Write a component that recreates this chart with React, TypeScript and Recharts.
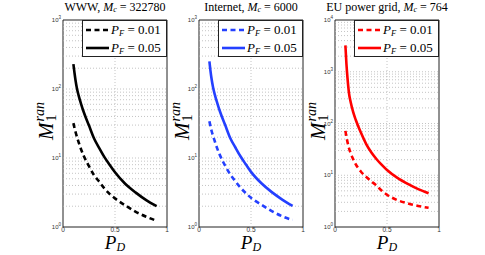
import React from 'react';
import { LineChart, Line, XAxis, YAxis, ReferenceLine, ReferenceArea } from 'recharts';

// detection probability P_D (x axis)
const pd = [0.1, 0.11, 0.12, 0.135, 0.15, 0.175, 0.2, 0.25, 0.3, 0.35, 0.4, 0.45, 0.5, 0.6, 0.7, 0.8, 0.9];

// WWW, M_c = 322780
const wwwLow = [32, 27.5, 24, 20, 17, 13.2, 10.7, 7.6, 5.6, 4.5, 3.6, 3.0, 2.6, 2.05, 1.66, 1.41, 1.23];
const wwwHigh = [229, 174, 135, 100, 81, 60, 46, 29.5, 19, 13.8, 10.2, 7.9, 6.2, 4.2, 3.15, 2.45, 2.0];

// Internet, M_c = 6000
const netLow = [34, 29, 25, 21, 17.8, 13.8, 11.1, 7.8, 5.8, 4.6, 3.7, 3.1, 2.65, 2.1, 1.7, 1.43, 1.26];
const netHigh = [251, 185, 143, 106, 85, 63, 48, 30.5, 19.5, 14.2, 10.5, 8.1, 6.3, 4.3, 3.2, 2.5, 2.02];

// EU power grid, M_c = 764
const euLow = [72, 55, 44, 33, 27, 20.4, 16.2, 11.7, 9.3, 7.6, 6.3, 5.0, 4.2, 3.3, 2.85, 2.55, 2.35];
const euHigh = [3240, 1410, 760, 380, 263, 166, 117, 66, 40, 27.5, 20.4, 15.8, 12.6, 8.9, 6.8, 5.4, 4.5];

const xTicks = [0, 0.5, 1];
const ticks3 = [1, 10, 100, 1000];
const ticks4 = [1, 10, 100, 1000, 10000];

const panels = [
  { name: 'WWW', mc: '322780', color: '#000000', low: wwwLow, high: wwwHigh, yTicks: ticks3 },
  { name: 'Internet', mc: '6000', color: '#2440ff', low: netLow, high: netHigh, yTicks: ticks3 },
  { name: 'EU power grid', mc: '764', color: '#ff0000', low: euLow, high: euHigh, yTicks: ticks4 },
];

const serif = '"Liberation Serif", "DejaVu Serif", serif';
const sans = '"Liberation Sans", Arial, sans-serif';

const YTick = (props: any) => {
  const { x, y, payload } = props;
  const exp = Math.round(Math.log10(payload.value));
  return (
    <text x={x} y={y + 2} textAnchor="end" fontSize={6} fill="#333" fontFamily={sans}>
      <tspan>10</tspan>
      <tspan dy={-3} fontSize={4.5}>{exp}</tspan>
    </text>
  );
};

const XTick = (props: any) => {
  const { x, y, payload } = props;
  return (
    <text x={x} y={y + 5} textAnchor="middle" fontSize={6.5} fill="#333" fontFamily={sans}>
      {payload.value}
    </text>
  );
};

const PF = ({ v }: { v: string }) => (
  <span style={{ fontFamily: serif, fontSize: 13, whiteSpace: 'nowrap' }}>
    <i>P</i>
    <sub style={{ fontSize: 8.5, fontStyle: 'italic', verticalAlign: -2 }}>F</sub> = {v}
  </span>
);

const Panel = ({ p, left }: { p: any; left: number }) => {
  const data = pd.map((x, i) => ({ pd: x, low: p.low[i], high: p.high[i] }));
  const yMax = p.yTicks[p.yTicks.length - 1];
  const grid: number[] = [];
  p.yTicks.slice(0, -1).forEach((d: number) => {
    for (let k = 1; k <= 9; k++) if (d * k > 1) grid.push(d * k);
  });
  const plotW = 104;
  return (
    <>
      <div style={{ position: 'absolute', left: left - 30, top: 0 }}>
        <LineChart width={142} height={255} data={data} margin={{ top: 20, right: 8, bottom: 0, left: 0 }}>
          <XAxis
            dataKey="pd"
            type="number"
            domain={[0, 1]}
            ticks={xTicks}
            height={28}
            tickLine={false}
            tickSize={0}
            tickMargin={0}
            axisLine={false}
            tick={<XTick />}
          />
          <YAxis
            type="number"
            scale="log"
            domain={[1, yMax]}
            ticks={p.yTicks}
            allowDataOverflow
            width={30}
            tickLine={false}
            tickSize={0}
            tickMargin={2}
            axisLine={false}
            tick={<YTick />}
          />
          {grid.map((g) => (
            <ReferenceLine key={g} y={g} stroke="#b5b5b5" strokeWidth={0.8} strokeDasharray="1 2" />
          ))}
          <ReferenceLine x={0.5} stroke="#b5b5b5" strokeWidth={0.8} strokeDasharray="1 2" />
          <ReferenceArea x1={0} x2={1} y1={1} y2={yMax} fill="none" fillOpacity={0} stroke="#222" strokeWidth={1} />
          <Line
            dataKey="low"
            type="monotone"
            stroke={p.color}
            strokeWidth={2.6}
            strokeDasharray="5 3.5"
            dot={false}
            isAnimationActive={false}
          />
          <Line
            dataKey="high"
            type="monotone"
            stroke={p.color}
            strokeWidth={2.6}
            dot={false}
            isAnimationActive={false}
          />
        </LineChart>
      </div>
      {/* title */}
      <div
        style={{
          position: 'absolute',
          left: left + plotW / 2 - 80,
          width: 160,
          top: 1,
          textAlign: 'center',
          fontFamily: serif,
          fontSize: 12,
          lineHeight: '13px',
          whiteSpace: 'nowrap',
        }}
      >
        {p.name}, <i>M</i>
        <sub style={{ fontSize: 8, fontStyle: 'italic', verticalAlign: -1 }}>c</sub> = {p.mc}
      </div>
      {/* legend */}
      <div
        style={{
          position: 'absolute',
          left: left + 19,
          top: 20,
          width: plotW - 19,
          height: 37,
          boxSizing: 'border-box',
          border: '1px solid #222',
          background: '#fff',
        }}
      >
        {[
          { v: '0.01', dash: '5 3.5', top: 1 },
          { v: '0.05', dash: undefined, top: 19 },
        ].map((r) => (
          <div key={r.v} style={{ position: 'absolute', left: 3, top: r.top, height: 16, display: 'flex', alignItems: 'center' }}>
            <svg width={23} height={6} style={{ marginRight: 2 }}>
              <line x1={0} y1={3} x2={23} y2={3} stroke={p.color} strokeWidth={2.6} strokeDasharray={r.dash} />
            </svg>
            <PF v={r.v} />
          </div>
        ))}
      </div>
      {/* y label */}
      <div
        style={{
          position: 'absolute',
          left: left - 17 - 40,
          top: 121 - 14,
          width: 80,
          height: 28,
          transform: 'rotate(-90deg)',
          display: 'flex',
          justifyContent: 'center',
          alignItems: 'center',
          fontFamily: serif,
          whiteSpace: 'nowrap',
        }}
      >
        <i style={{ fontSize: 21 }}>M</i>
        <span style={{ display: 'inline-flex', flexDirection: 'column', fontSize: 14, lineHeight: '12px', marginLeft: 1 }}>
          <i>ran</i>
          <span>1</span>
        </span>
      </div>
      {/* x label */}
      <div
        style={{
          position: 'absolute',
          left: left + plotW / 2 - 30,
          width: 60,
          top: 235,
          textAlign: 'center',
          fontFamily: serif,
          fontSize: 19,
          lineHeight: '16px',
          whiteSpace: 'nowrap',
        }}
      >
        <i>P</i>
        <sub style={{ fontSize: 12, fontStyle: 'italic', verticalAlign: -2, lineHeight: '10px' }}>D</sub>
      </div>
    </>
  );
};

export default function App() {
  return (
    <div style={{ position: 'absolute', left: 0, top: 0, width: 485, height: 255, background: '#fff', overflow: 'hidden' }}>
      {panels.map((p, i) => (
        <Panel key={p.name} p={p} left={63 + 136 * i} />
      ))}
    </div>
  );
}
